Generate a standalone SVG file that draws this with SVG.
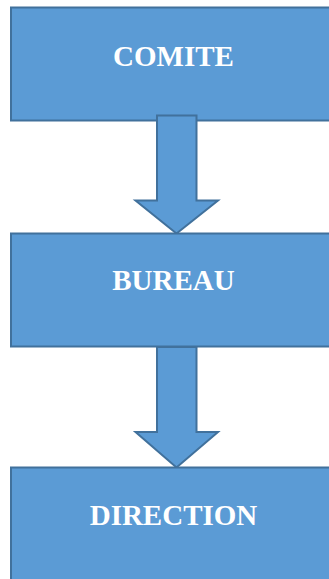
<svg xmlns="http://www.w3.org/2000/svg" width="329" height="579" viewBox="0 0 329 579">
<style>
.box{fill:#5B9BD5;stroke:#41719C;stroke-width:2}
.arrow{fill:#5B9BD5;stroke:#41719C;stroke-width:2;stroke-linejoin:miter}
.lbl{font-family:"Liberation Serif","Times New Roman",serif;font-weight:bold;font-size:29px;fill:#FFFFFF;text-anchor:middle}
</style>
<rect width="329" height="579" fill="#FFFFFF"/>
<g id="node-comite">
<rect class="box" x="11" y="7.5" width="330" height="113"/>
<text class="lbl" x="173.5" y="65.5">COMITE</text>
</g>
<g id="connectors">
<path id="arrow1" class="arrow" d="M157,115.5 H196.5 V200.5 H218 L176.5,233.5 L135.5,200.5 H157 Z"/>
</g>
<g id="node-bureau">
<rect class="box" x="11" y="233.5" width="330" height="113"/>
<text class="lbl" x="173.5" y="290">BUREAU</text>
</g>
<g id="connectors2">
<path id="arrow2" class="arrow" d="M157,347 H196.5 V432 H218 L176.5,467.5 L135.5,432 H157 Z"/>
</g>
<g id="node-direction">
<rect class="box" x="11" y="467.5" width="330" height="130"/>
<text class="lbl" x="173.5" y="525">DIRECTION</text>
</g>
</svg>
